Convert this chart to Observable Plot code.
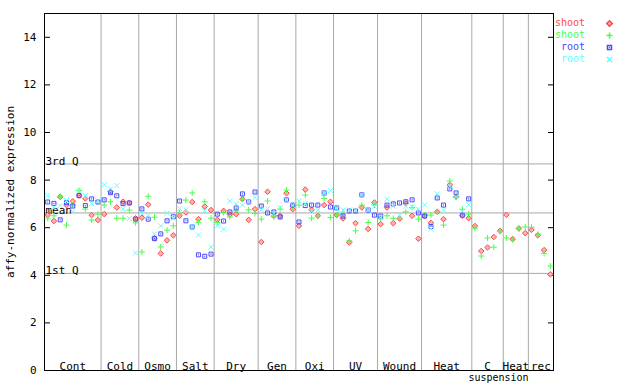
<!DOCTYPE html>
<html><head><meta charset="utf-8">
<script src="https://cdn.jsdelivr.net/npm/d3@7"></script>
<script src="https://cdn.jsdelivr.net/npm/@observablehq/plot@0.6"></script>
<style>
body{margin:0;background:#fff;}
#wrap{position:relative;width:640px;height:384px;font-family:"DejaVu Sans Mono",monospace;font-size:11px;}
#wrap svg{display:block;}
.lg{position:absolute;height:10px;line-height:10px;white-space:nowrap;font-size:10px;}
</style></head><body><div id="wrap"></div>
<script>
const groupLabels = ["Cont","Cold","Osmo","Salt","Dry","Gen","Oxi","UV","Wound","Heat","C","Heat","rec"];
const groupSizes = [9,6,6,6,7,6,6,7,7,8,5,4,4];
const subLabel = "suspension";
const subLabelGroup = 10;

const shootRed = [6.53,6.28,7.30,6.95,7.11,7.35,7.23,6.53,6.32,6.57,
  7.52,6.85,7.09,7.04,6.39,6.42,6.97,5.56,4.92,5.47,
  5.68,6.50,6.64,7.08,6.36,6.89,6.74,6.33,6.71,6.55,
  6.57,7.20,6.33,6.78,5.40,7.51,6.50,6.50,7.45,6.78,
  6.08,7.60,6.75,6.50,6.95,7.09,6.53,6.39,5.38,6.19,
  6.85,5.95,7.06,6.15,6.85,6.19,6.38,7.02,6.50,5.54,
  6.50,6.20,6.67,6.36,7.80,7.30,6.50,6.40,6.07,5.02,
  5.17,5.61,5.87,6.54,5.52,5.97,5.77,5.91,5.68,5.06,4.04];
const shootGreen = [6.40,6.50,7.30,6.11,6.95,7.56,6.78,6.32,6.57,6.95,
  7.09,6.40,6.40,6.74,6.20,4.98,7.32,6.44,5.19,5.90,
  6.08,6.62,7.16,7.46,6.22,7.09,6.40,6.22,6.64,6.45,
  6.70,7.20,6.75,6.60,6.36,7.12,6.45,6.78,7.58,6.90,
  6.95,7.37,6.40,6.50,7.23,6.43,6.53,6.60,5.45,5.87,
  6.95,6.22,6.95,6.37,6.50,6.39,6.36,6.67,6.85,6.36,
  6.53,6.53,6.67,6.11,7.96,7.28,6.77,6.57,5.98,4.81,
  5.57,5.18,5.85,5.57,5.50,5.95,6.03,6.02,5.73,4.92,4.39];
const rootBlue = [7.08,7.02,6.33,7.05,6.91,7.35,6.93,7.21,7.08,7.17,
  7.47,7.34,7.01,7.04,6.36,6.79,6.36,5.54,5.74,6.29,
  6.46,7.12,6.29,6.03,4.86,4.80,4.89,6.57,6.28,6.66,
  6.83,7.42,7.08,7.50,6.91,6.62,6.66,6.45,7.17,6.95,
  6.24,6.93,6.95,6.95,7.46,6.87,6.83,6.49,6.70,6.70,
  7.38,6.74,6.53,6.49,6.95,7.00,7.04,7.09,7.17,6.62,
  6.49,6.05,7.25,6.95,7.63,7.46,6.53,7.21];
const rootCyan = [7.35,6.85,6.93,7.14,6.67,7.56,7.35,7.01,7.13,7.81,
  7.63,7.77,6.78,6.39,4.94,6.59,6.50,5.74,6.08,6.61,
  6.40,6.80,6.74,6.05,5.69,6.71,5.19,6.08,5.94,7.12,
  7.00,6.95,7.10,7.27,6.75,6.81,6.60,6.85,7.17,6.93,
  7.12,7.00,6.70,6.74,7.46,7.56,6.80,6.74,6.74,6.74,
  7.38,6.75,6.90,6.42,7.20,6.90,6.53,6.90,6.88,6.78,
  6.96,5.94,7.42,6.74,7.75,7.30,6.70,6.97];

const quartileValues = [8.68, 6.62, 4.08];
const quartileLabels = ["3rd Q", "mean", "1st Q"];
const yTicks = [0,2,4,6,8,10,12,14];
const seriesNames = ["shoot","shoot","root","root"];
const seriesColors = ["#ff4848","#48ff48","#4848ff","#60ffff"];
const seriesSymbols = ["diamond2","plus","square2","times"];

const nSamples = groupSizes.reduce((a,b)=>a+b,0);
const starts = []; let acc = 0;
for (const s of groupSizes) { starts.push(acc); acc += s; }
const boundaries = starts.slice(1);
const groups = groupLabels.map((g,i)=>({label:g, x: starts[i] + groupSizes[i]/2}));
const toPts = arr => arr.map((v,i)=>({x:i+0.5, y:v}));
const redPts = toPts(shootRed), greenPts = toPts(shootGreen), bluePts = toPts(rootBlue), cyanPts = toPts(rootCyan);
const quart = quartileValues.map((v,i)=>({y:v, label:quartileLabels[i]}));

const plot = Plot.plot({
  width: 640, height: 384,
  marginLeft: 44, marginRight: 87, marginTop: 13, marginBottom: 14,
  x: {domain: [0, nSamples], axis: null},
  y: {domain: [0, 15]},
  style: {fontFamily: "DejaVu Sans Mono", fontSize: "11px", background: "white", color: "black", overflow: "visible"},
  marks: [
    Plot.ruleX(boundaries, {stroke: "#a8a8a8", strokeWidth: 1}),
    Plot.ruleY(quart, {y: "y", stroke: "#a8a8a8", strokeWidth: 1}),
    Plot.text(quart, {y: "y", text: "label", frameAnchor: "left", textAnchor: "start", lineAnchor: "bottom", dx: 1, dy: 1, fill: "black"}),
    Plot.text(groups, {x: "x", y: () => 0, text: "label", lineAnchor: "bottom", dy: -1, fill: "black"}),
    Plot.text([subLabel], {x: () => groups[subLabelGroup].x, y: () => 0, text: d => d, lineAnchor: "top", dy: 3, dx: 11, fontSize: 10, fill: "black"}),
    Plot.axisY({anchor: "left", ticks: yTicks, tickSize: -6, tickPadding: 14, label: "affy-normalized expression", labelAnchor: "center", labelOffset: 38, labelArrow: "none"}),
    Plot.axisY({anchor: "right", ticks: yTicks, tickSize: -6, tickFormat: () => "", label: null}),
    Plot.frame({stroke: "black"}),
    Plot.dot(redPts, {x: "x", y: "y", symbol: "diamond2", r: 2.5, stroke: seriesColors[0], fill: "#ffb0b0", strokeWidth: 1}),
    Plot.dot(greenPts, {x: "x", y: "y", symbol: "plus", r: 2.1, stroke: seriesColors[1], strokeWidth: 1}),
    Plot.dot(bluePts, {x: "x", y: "y", symbol: "square2", r: 2.55, stroke: seriesColors[2], strokeWidth: 1}),
    Plot.dot(bluePts, {x: "x", y: "y", symbol: "square", r: 0.6, fill: seriesColors[2]}),
    Plot.dot(cyanPts, {x: "x", y: "y", symbol: "times", r: 2.4, stroke: seriesColors[3], strokeWidth: 1})
  ]
});
const wrap = document.getElementById("wrap");
wrap.appendChild(plot);

// legend
seriesNames.forEach((name, i) => {
  const top = 18 + i * 12;
  const t = document.createElement("div");
  t.className = "lg";
  t.style.right = (640 - 585) + "px";
  t.style.top = top + "px";
  t.style.color = seriesColors[i];
  t.textContent = name;
  wrap.appendChild(t);
  const m = document.createElement("div");
  m.className = "lg";
  m.style.left = "603px";
  m.style.top = (top - 1) + "px";
  m.appendChild(Plot.plot({
    width: 12, height: 12, margin: 0,
    x: {domain: [0, 1], axis: null}, y: {domain: [0, 1], axis: null},
    marks: i === 2
      ? [Plot.dot([0], {x: () => 0.5, y: () => 0.5, symbol: seriesSymbols[i], r: 2.55, stroke: seriesColors[i]}),
         Plot.dot([0], {x: () => 0.5, y: () => 0.5, symbol: "square", r: 0.6, fill: seriesColors[i]})]
      : [Plot.dot([0], {x: () => 0.5, y: () => 0.5, symbol: seriesSymbols[i], r: i === 0 ? 2.5 : (i === 1 ? 2.1 : 2.4), stroke: seriesColors[i], fill: i === 0 ? "#ffb0b0" : "none"})]
  }));
  wrap.appendChild(m);
});
</script></body></html>
